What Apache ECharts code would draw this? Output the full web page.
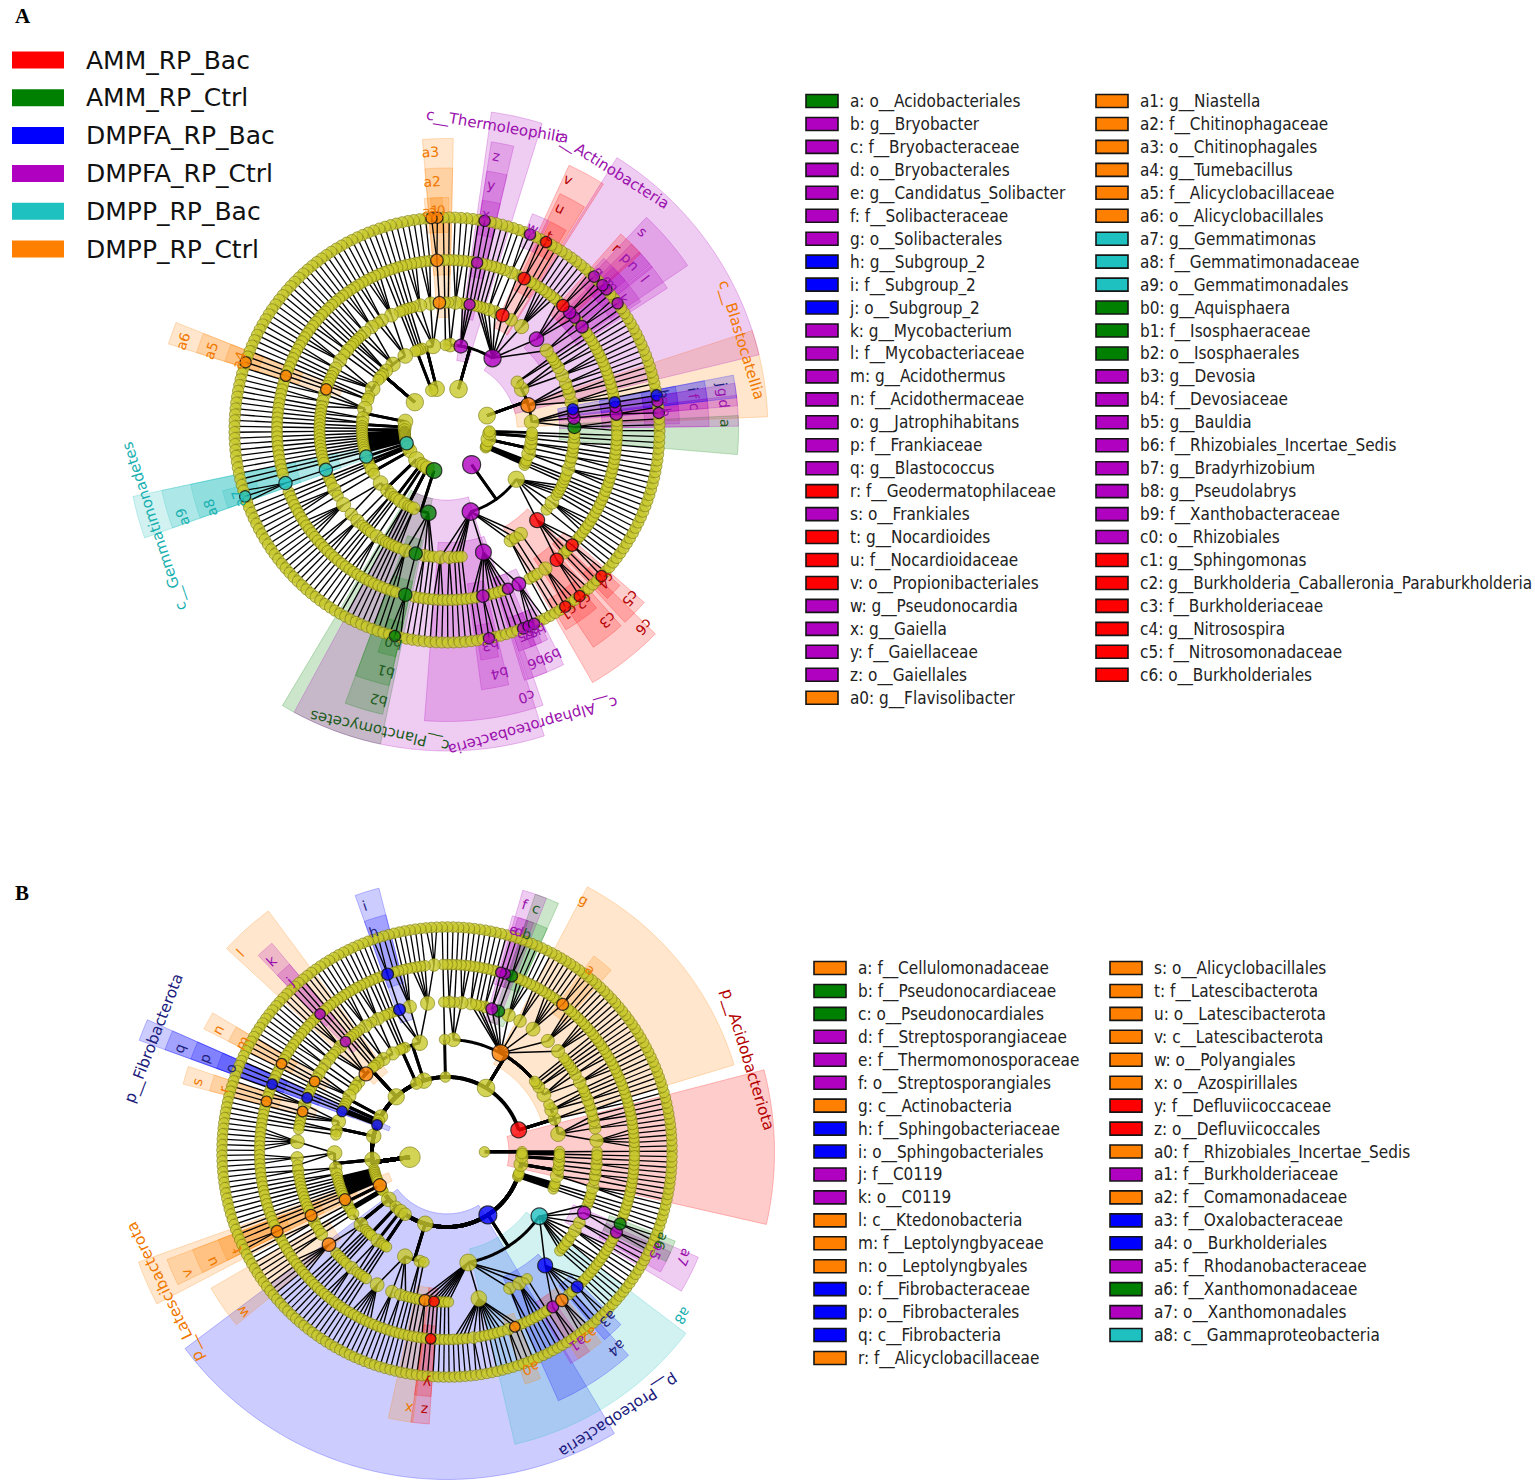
<!DOCTYPE html>
<html>
<head>
<meta charset="utf-8">
<script src="https://cdn.jsdelivr.net/npm/echarts@6/dist/echarts.min.js"></script>
<style>
html, body { margin: 0; padding: 0; background: #fff; }
#main { width: 1535px; height: 1482px; }
</style>
</head>
<body>
<div id="main"></div>
<script>
// groups of the LEfSe comparison
var groupNames = ['AMM_RP_Bac', 'AMM_RP_Ctrl', 'DMPFA_RP_Bac', 'DMPFA_RP_Ctrl', 'DMPP_RP_Bac', 'DMPP_RP_Ctrl'];
var groupColors = ['#ff0000', '#008000', '#0000ff', '#b000c0', '#1ec0c0', '#ff8000'];
var labelColors = ['#b40000', '#1d5c1d', '#20207c', '#9a10ad', '#18b0b0', '#f07800'];

// biomarkers: key, name, group.  key == name -> written on the ring, name '' -> node colour only
var markersA = [
  ['a', 'o__Acidobacteriales', 1], ['b', 'g__Bryobacter', 3], ['c', 'f__Bryobacteraceae', 3],
  ['d', 'o__Bryobacterales', 3], ['e', 'g__Candidatus_Solibacter', 3], ['f', 'f__Solibacteraceae', 3],
  ['g', 'o__Solibacterales', 3], ['h', 'g__Subgroup_2', 2], ['i', 'f__Subgroup_2', 2],
  ['j', 'o__Subgroup_2', 2], ['k', 'g__Mycobacterium', 3], ['l', 'f__Mycobacteriaceae', 3],
  ['m', 'g__Acidothermus', 3], ['n', 'f__Acidothermaceae', 3], ['o', 'g__Jatrophihabitans', 3],
  ['p', 'f__Frankiaceae', 3], ['q', 'g__Blastococcus', 3], ['r', 'f__Geodermatophilaceae', 0],
  ['s', 'o__Frankiales', 3], ['t', 'g__Nocardioides', 0], ['u', 'f__Nocardioidaceae', 0],
  ['v', 'o__Propionibacteriales', 0], ['w', 'g__Pseudonocardia', 3], ['x', 'g__Gaiella', 3],
  ['y', 'f__Gaiellaceae', 3], ['z', 'o__Gaiellales', 3], ['a0', 'g__Flavisolibacter', 5],
  ['a1', 'g__Niastella', 5], ['a2', 'f__Chitinophagaceae', 5], ['a3', 'o__Chitinophagales', 5],
  ['a4', 'g__Tumebacillus', 5], ['a5', 'f__Alicyclobacillaceae', 5], ['a6', 'o__Alicyclobacillales', 5],
  ['a7', 'g__Gemmatimonas', 4], ['a8', 'f__Gemmatimonadaceae', 4], ['a9', 'o__Gemmatimonadales', 4],
  ['b0', 'g__Aquisphaera', 1], ['b1', 'f__Isosphaeraceae', 1], ['b2', 'o__Isosphaerales', 1],
  ['b3', 'g__Devosia', 3], ['b4', 'f__Devosiaceae', 3], ['b5', 'g__Bauldia', 3],
  ['b6', 'f__Rhizobiales_Incertae_Sedis', 3], ['b7', 'g__Bradyrhizobium', 3], ['b8', 'g__Pseudolabrys', 3],
  ['b9', 'f__Xanthobacteraceae', 3], ['c0', 'o__Rhizobiales', 3], ['c1', 'g__Sphingomonas', 0],
  ['c2', 'g__Burkholderia_Caballeronia_Paraburkholderia', 0], ['c3', 'f__Burkholderiaceae', 0],
  ['c4', 'g__Nitrosospira', 0], ['c5', 'f__Nitrosomonadaceae', 0], ['c6', 'o__Burkholderiales', 0],
  ['c__Blastocatellia', 'c__Blastocatellia', 5], ['c__Actinobacteria', 'c__Actinobacteria', 3],
  ['c__Thermoleophilia', 'c__Thermoleophilia', 3], ['c__Gemmatimonadetes', 'c__Gemmatimonadetes', 4],
  ['c__Planctomycetes', 'c__Planctomycetes', 1], ['c__Alphaproteobacteria', 'c__Alphaproteobacteria', 3],
  ['#Gemmatimonadota', '', 4], ['#Planctomycetota', '', 1], ['#Proteobacteria', '', 3]
];

var markersB = [
  ['a', 'f__Cellulomonadaceae', 5], ['b', 'f__Pseudonocardiaceae', 1], ['c', 'o__Pseudonocardiales', 1],
  ['d', 'f__Streptosporangiaceae', 3], ['e', 'f__Thermomonosporaceae', 3], ['f', 'o__Streptosporangiales', 3],
  ['g', 'c__Actinobacteria', 5], ['h', 'f__Sphingobacteriaceae', 2], ['i', 'o__Sphingobacteriales', 2],
  ['j', 'f__C0119', 3], ['k', 'o__C0119', 3], ['l', 'c__Ktedonobacteria', 5],
  ['m', 'f__Leptolyngbyaceae', 5], ['n', 'o__Leptolyngbyales', 5], ['o', 'f__Fibrobacteraceae', 2],
  ['p', 'o__Fibrobacterales', 2], ['q', 'c__Fibrobacteria', 2], ['r', 'f__Alicyclobacillaceae', 5],
  ['s', 'o__Alicyclobacillales', 5], ['t', 'f__Latescibacterota', 5], ['u', 'o__Latescibacterota', 5],
  ['v', 'c__Latescibacterota', 5], ['w', 'o__Polyangiales', 5], ['x', 'o__Azospirillales', 5],
  ['y', 'f__Defluviicoccaceae', 0], ['z', 'o__Defluviicoccales', 0], ['a0', 'f__Rhizobiales_Incertae_Sedis', 5],
  ['a1', 'f__Burkholderiaceae', 3], ['a2', 'f__Comamonadaceae', 5], ['a3', 'f__Oxalobacteraceae', 2],
  ['a4', 'o__Burkholderiales', 2], ['a5', 'f__Rhodanobacteraceae', 3], ['a6', 'f__Xanthomonadaceae', 1],
  ['a7', 'o__Xanthomonadales', 3], ['a8', 'c__Gammaproteobacteria', 4],
  ['p__Acidobacteriota', 'p__Acidobacteriota', 0], ['p__Fibrobacterota', 'p__Fibrobacterota', 2],
  ['p__Latescibacterota', 'p__Latescibacterota', 5], ['p__Proteobacteria', 'p__Proteobacteria', 2]
];

// taxonomy, nested: phylum -> classes -> orders -> families -> genera.
// a number inside an order is a family with that many genera, inside a family it is a count of genera.
// {m: key, c: [...]} marks a biomarker clade.
var phylaA = [
  ['Acidobacteriota', [
    [{m: 'a', c: [1, 1, 1]}, {m: 'd', c: [{m: 'c', c: [{m: 'b'}, 1]}]}, {m: 'g', c: [{m: 'f', c: [{m: 'e'}]}]}, {m: 'j', c: [{m: 'i', c: [{m: 'h'}]}]}],
    {m: 'c__Blastocatellia', c: [[1, 1, 1], [1, 1], [1], [1, 1]]},
    [[1, 1, 1], [1, 1], [1]],
    [[1], [1]]
  ]],
  ['Actinobacteriota', [
    {m: 'c__Actinobacteria', c: [
      [{m: 'l', c: [{m: 'k'}, 1]}, 1],
      {m: 's', c: [{m: 'n', c: [{m: 'm'}]}, {m: 'p', c: [{m: 'o'}, 1]}, {m: 'r', c: [{m: 'q'}, 1]}, 1]},
      [1, 1, 1, 1, 1], [1, 1],
      {m: 'v', c: [{m: 'u', c: [{m: 't'}, 1]}, 1]},
      [[{m: 'w'}, 1]],
      [1, 1], [1], [1], [1]
    ]},
    {m: 'c__Thermoleophilia', c: [[1], {m: 'z', c: [{m: 'y', c: [{m: 'x'}]}]}, [1], [1]]},
    [[1, 1, 1], [1]],
    [[1]]
  ]],
  ['Bacteroidota', [
    [{m: 'a3', c: [{m: 'a2', c: [{m: 'a0'}, {m: 'a1'}]}]}, [1, 1, 1], [1, 1, 1], [1]],
    [[1]], [[1]]
  ]],
  ['Bdellovibrionota', [[[1]], [[1]]]],
  ['Chloroflexi', [
    [[1, 1, 1, 1], [1, 1], [1]], [[1, 1, 1], [1, 1], [1]], [[1], [1], [1]], [[1]], [[1, 1]], [[1]],
    [[1, 1, 1], [1, 1], [1], [1]], [[1]], [[1], [1]]
  ]],
  ['Firmicutes', [
    [{m: 'a6', c: [{m: 'a5', c: [{m: 'a4'}]}]}, [1, 1], [1, 1], [1]],
    [[1], [1]]
  ]],
  ['Cyanobacteria', [[[1], [1]], [[1]]]],
  ['Desulfobacterota', [[[1]], [[1]]]],
  ['Armatimonadota', [[[1]]]], ['Elusimicrobiota', [[[1]]]], ['Entotheonellaeota', [[[1]]]],
  ['FCPU426', [[[1]]]], ['Fibrobacterota', [[[1]]]], ['GAL15', [[[1]]]],
  ['Dependentiae', [[[1]]]], ['Hydrogenedentes', [[[1]]]], ['Abditibacteriota', [[[1]]]],
  ['Gemmatimonadota', {m: '#Gemmatimonadota', c: [
    {m: 'c__Gemmatimonadetes', c: [{m: 'a9', c: [{m: 'a8', c: [1, {m: 'a7'}, 1]}]}]}
  ]}],
  ['Latescibacterota', [[[1]]]],
  ['MBNT15', [[[1]], [[1]]]],
  ['Methylomirabilota', [[[1, 1, 1]], [[1]]]],
  ['Myxococcota', [[[1, 1, 1, 1, 1], [1, 1]], [[1, 1, 1]], [[1], [1]]]],
  ['NB1-j', [[[1]], [[1]]]],
  ['Nitrospirota', [[[1, 1, 1]]]],
  ['Patescibacteria', [[[1], [1]], [[1]], [[1]]]],
  ['Planctomycetota', {m: '#Planctomycetota', c: [
    [[1], [1]],
    {m: 'c__Planctomycetes', c: [[1, 1, 1], {m: 'b2', c: [{m: 'b1', c: [1, {m: 'b0'}, 1]}]}, [1, 1], [1], [1]]}
  ]}],
  ['Proteobacteria', {m: '#Proteobacteria', c: [
    {m: 'c__Alphaproteobacteria', c: [
      [1, 1, 1], [1, 1], [1], [1], [1],
      {m: 'c0', c: [1, 1, {m: 'b4', c: [{m: 'b3'}, 1]}, 1, 1, 1, 1, {m: 'b6', c: [{m: 'b5'}]}, {m: 'b9', c: [{m: 'b7'}, {m: 'b8'}, 1, 1]}]},
      [1, 1], [1],
      [[{m: 'c1'}, 1, 1]]
    ]},
    [
      {m: 'c6', c: [{m: 'c3', c: [{m: 'c2'}, 1, 1]}, 1, 1, {m: 'c5', c: [{m: 'c4'}, 1]}, 1]},
      [1], [1, 1, 1, 1], [1], [1], [1], [1]
    ]
  ]}],
  ['RCP2-54', [[[1]]]], ['SAR324', [[[1]]]], ['Sumerlaeota', [[[1]]]],
  ['Verrucomicrobiota', [[[1, 1, 1], [1]], [[1, 1]], [[1], [1]]]],
  ['WPS-2', [[[1, 1]], [[1]]]],
  ['Zixibacteria', [[[1]]]]
];

// kingdom, phylum, classes
var phylaB = [
  ['Archaea', 'Crenarchaeota', [[[1]]]],
  ['Bacteria', 'Acidobacteriota', {m: 'p__Acidobacteriota', c: [
    [[1, 1, 1, 1, 1], [1, 1], [1, 1], [1]], [[1, 1], [1]], [[1, 1], [1], [1]], [[1]]
  ]}],
  ['Bacteria', 'Actinobacteriota', [
    [[1, 1, 1], [1, 1], [1]], [[1], [1]], [[1]], [[1]],
    {m: 'g', c: [
      [1, 1, 1, 1], [1, 1, 1, 1],
      [{m: 'a', c: [2]}, 1, 1, 1, 1],
      [1, 1, 1], [1, 1, 1, 1],
      {m: 'c', c: [{m: 'b', c: [2]}]},
      {m: 'f', c: [{m: 'd', c: [1]}, {m: 'e', c: [1]}]},
      [1, 1], [1], [1], [1, 1]
    ]},
    [[1, 1, 1], [1], [1, 1]]
  ]],
  ['Bacteria', 'Armatimonadota', [[[1]]]],
  ['Bacteria', 'Bacteroidota', [
    [[3, 1, 1, 1, 1], [1, 1, 1, 1], {m: 'i', c: [{m: 'h', c: [2]}]}, [1]],
    [[1]]
  ]],
  ['Bacteria', 'Bdellovibrionota', [[[1]], [[1]]]],
  ['Bacteria', 'Chloroflexi', [
    [[1, 1, 1], [1]], [[1, 1, 1], [1]], [[1], [1]], [[1]], [[1]],
    {m: 'l', c: [{m: 'k', c: [{m: 'j', c: [1]}]}, [1, 1, 1], [1], [1]]},
    [[1, 1]], [[1, 1]], [[1]]
  ]],
  ['Bacteria', 'Cyanobacteria', [
    [[1, 1], [1], {m: 'n', c: [{m: 'm', c: [1]}]}],
    [[1]]
  ]],
  ['Bacteria', 'Desulfobacterota', [[[1]], [[1]]]],
  ['Bacteria', 'Elusimicrobiota', [[[1]]]],
  ['Bacteria', 'Fibrobacterota', {m: 'p__Fibrobacterota', c: [{m: 'q', c: [{m: 'p', c: [{m: 'o', c: [1]}]}]}]}],
  ['Bacteria', 'Firmicutes', [
    [[1, 1, 1], {m: 's', c: [{m: 'r', c: [1]}]}, [1], [1]],
    [[1], [1]], [[1]]
  ]],
  ['Bacteria', 'Gemmatimonadota', [[[1, 1, 1, 1, 1, 1], [1, 1, 1], [1]], [[1, 1], [1]], [[1], [1]]]],
  ['Bacteria', 'Hydrogenedentes', [[[1]]]], ['Bacteria', 'Entotheonellaeota', [[[1]]]],
  ['Bacteria', 'FCPU426', [[[1]]]], ['Bacteria', 'GAL15', [[[1]]]],
  ['Bacteria', 'Dependentiae', [[[1]]]], ['Bacteria', 'Abditibacteriota', [[[1]]]],
  ['Bacteria', 'Deinococcota', [[[1]]]], ['Bacteria', 'Nitrospinota', [[[1]]]],
  ['Bacteria', 'Latescibacterota', {m: 'p__Latescibacterota', c: [
    {m: 'v', c: [{m: 'u', c: [{m: 't', c: [2]}]}]}, [[1, 1]]
  ]}],
  ['Bacteria', 'MBNT15', [[[1]]]],
  ['Bacteria', 'Methylomirabilota', [[[1]]]],
  ['Bacteria', 'Myxococcota', [[[1, 1]], [{m: 'w', c: [1, 1, 1, 1, 1]}, [1]], [[1]], [[1]]]],
  ['Bacteria', 'NB1-j', [[[1]], [[1]]]],
  ['Bacteria', 'Nitrospirota', [[[1, 1, 1], [1]]]],
  ['Bacteria', 'Patescibacteria', [[[1]], [[1]], [[1]]]],
  ['Bacteria', 'Planctomycetota', [[[1, 1, 1, 1, 1, 1], [1, 1, 1], [1, 1], [1]], [[1], [1]], [[1]]]],
  ['Bacteria', 'Proteobacteria', {m: 'p__Proteobacteria', c: [
    [
      [1], {m: 'x', c: [1, 1]}, [1], {m: 'z', c: [{m: 'y', c: [1]}]}, [1], [1], [1], [1],
      [1, 1, 1, 1, 2, 1, 1, 1, 1, 1, 1, 2, {m: 'a0', c: [1]}, 1],
      [1, 1], [1, 1, 1, 1], [1]
    ],
    {m: 'a8', c: [
      {m: 'a4', c: [{m: 'a1', c: [2]}, {m: 'a2', c: [3]}, 1, 1, {m: 'a3', c: [2]}, 1, 1]},
      [1], [1], [1], [1, 1], [1], [1, 1, 1], [1, 1],
      {m: 'a7', c: [{m: 'a5', c: [2]}, {m: 'a6', c: [2]}]},
      [1]
    ]}
  ]}],
  ['Bacteria', 'RCP2-54', [[[1]]]], ['Bacteria', 'SAR324', [[[1]]]], ['Bacteria', 'Sumerlaeota', [[[1]]]],
  ['Bacteria', 'Verrucomicrobiota', [[[1, 1, 1], [1]], [[1, 1]], [[1]]]],
  ['Bacteria', 'WPS-2', [[[1, 1]], [[1]]]],
  ['Bacteria', 'Zixibacteria', [[[1]]]]
];

var layoutA = {polar: 0, kingdoms: false, depth: 5, ring: 42.5, start: 91, lmax: 5, labelStep: 29.5,
  arcDepth: 1, widths: [0, 2.8, 1.5, 1.4, 1.3], base: 5.6, k: 0.9, letterSize: 14, nameSize: 15};
var layoutB = {polar: 1, kingdoms: true, depth: 6, ring: 37.5, start: 90.5, lmax: 5, labelStep: 27.5,
  arcDepth: 2, widths: [0, 3.8, 3.0, 1.5, 1.4, 1.3], base: 5.3, k: 0.9, letterSize: 14, nameSize: 15.5};

function rgba(hex, a) {
  var n = parseInt(hex.slice(1), 16);
  return 'rgba(' + (n >> 16 & 255) + ',' + (n >> 8 & 255) + ',' + (n & 255) + ',' + a + ')';
}

function grow(spec, depth, maxDepth) {
  var node = {depth: depth, kids: [], mark: null};
  if (spec && !Array.isArray(spec) && typeof spec === 'object') { node.mark = spec.m; spec = spec.c; }
  if (depth === maxDepth) return node;
  if (typeof spec === 'number') spec = [spec];
  (spec || [1]).forEach(function (s) {
    if (typeof s === 'number' && depth + 1 === maxDepth) {
      for (var i = 0; i < s; i++) node.kids.push(grow(null, depth + 1, maxDepth));
    } else {
      node.kids.push(grow(s, depth + 1, maxDepth));
    }
  });
  return node;
}

function buildTree(phyla, cfg) {
  var root = {depth: 0, kids: [], mark: null};
  if (cfg.kingdoms) {
    var km = {};
    phyla.forEach(function (p) {
      if (!km[p[0]]) { km[p[0]] = {depth: 1, kids: [], mark: null}; root.kids.push(km[p[0]]); }
      km[p[0]].kids.push(grow(p[2], 2, cfg.depth));
    });
  } else {
    phyla.forEach(function (p) { root.kids.push(grow(p[1], 1, cfg.depth)); });
  }
  var leaf = 0;
  (function place(n) {
    if (!n.kids.length) { n.s = leaf; n.e = leaf + 1; n.v = leaf + 0.5; leaf++; return; }
    n.kids.forEach(place);
    var f = n.kids[0], l = n.kids[n.kids.length - 1];
    n.s = f.s; n.e = l.e; n.v = (f.v + l.v) / 2;
  })(root);
  return {root: root, n: leaf};
}

function cladogram(phyla, markers, cfg) {
  var mk = {};
  markers.forEach(function (m) { mk[m[0]] = {name: m[1], g: m[2]}; });
  var t = buildTree(phyla, cfg);
  var outer = cfg.ring * cfg.depth;
  var nodes = [], edges = [], sectors = [], labels = [];
  (function walk(n, parent) {
    if (parent) nodes.push(n);
    if (parent && parent.depth >= 1) {
      edges.push([parent.depth, parent.v, n.depth, n.v, parent.depth <= cfg.arcDepth ? 1 : 0, cfg.widths[parent.depth]]);
    }
    if (n.mark && mk[n.mark]) {
      var m = mk[n.mark];
      n.g = m.g;
      if (m.name) {
        var lr = outer + 7 + (cfg.lmax - n.depth) * cfg.labelStep;
        var w = n.e - n.s + 1.8;
        // shading is centred on the clade's first edge, as in the original figure
        sectors.push([n.depth - 0.35, (lr + 13) / cfg.ring, n.s - w / 2, n.s + w / 2, m.g]);
        labels.push({r: lr / cfg.ring, v: n.v, text: n.mark === m.name ? m.name : n.mark, g: m.g, big: n.mark === m.name});
      }
    }
    n.kids.forEach(function (k) { walk(k, n); });
  })(t.root, null);
  sectors.sort(function (a, b) { return a[0] - b[0]; });

  var plain = [], marked = [];
  nodes.forEach(function (n) {
    var r = cfg.base + cfg.k * Math.log(n.e - n.s);
    var item = {value: [n.depth, n.v], symbolSize: 2 * r};
    if (n.g !== undefined) {
      item.itemStyle = {color: groupColors[n.g], borderColor: '#111', borderWidth: 1.2};
      marked.push(item);
    } else {
      item.itemStyle = {color: '#c8c82a', borderColor: '#7a7a12', borderWidth: 0.8};
      plain.push(item);
    }
  });

  var pi = cfg.polar;
  var series = [
    {type: 'custom', coordinateSystem: 'polar', polarIndex: pi, silent: true, z: 1, data: sectors,
      renderItem: function (params, api) {
        var r0 = api.value(0), r1 = api.value(1), a0 = api.value(2), a1 = api.value(3), g = api.value(4);
        var steps = Math.max(2, Math.ceil((a1 - a0) / 0.5)), pts = [], i;
        for (i = 0; i <= steps; i++) pts.push(api.coord([r1, a0 + (a1 - a0) * i / steps]));
        for (i = steps; i >= 0; i--) pts.push(api.coord([r0, a0 + (a1 - a0) * i / steps]));
        return {type: 'polygon', shape: {points: pts},
          style: {fill: rgba(groupColors[g], 0.2), stroke: rgba(groupColors[g], 0.3), lineWidth: 0.8}};
      }},
    {type: 'custom', coordinateSystem: 'polar', polarIndex: pi, silent: true, z: 2, data: edges,
      renderItem: function (params, api) {
        var pl = api.value(0), pv = api.value(1), cl = api.value(2), cv = api.value(3);
        var pts = [api.coord([pl, pv])];
        if (api.value(4)) {
          pts.push(api.coord([cl, pv]));
          var steps = Math.max(1, Math.ceil(Math.abs(cv - pv) / 0.5));
          for (var i = 1; i <= steps; i++) pts.push(api.coord([cl, pv + (cv - pv) * i / steps]));
        } else {
          pts.push(api.coord([cl, cv]));
        }
        return {type: 'polyline', shape: {points: pts}, style: {stroke: '#000', lineWidth: api.value(5), fill: null}};
      }},
    {type: 'scatter', coordinateSystem: 'polar', polarIndex: pi, silent: true, z: 3,
      symbol: 'circle', data: plain.concat(marked)},
    {type: 'custom', coordinateSystem: 'polar', polarIndex: pi, silent: true, z: 4,
      data: labels.map(function (l, i) { return [l.r, l.v, i]; }),
      renderItem: function (params, api) {
        var l = labels[api.value(2)];
        var p = api.coord([api.value(0), api.value(1)]);
        var cs = params.coordSys;
        var phi = Math.atan2(cs.cy - p[1], p[0] - cs.cx);
        return {type: 'text', x: p[0], y: p[1], rotation: phi - Math.PI / 2,
          style: {text: l.text, fill: labelColors[l.g], fontSize: l.big ? cfg.nameSize : cfg.letterSize,
            fontFamily: 'DejaVu Sans', align: 'center', verticalAlign: 'middle'}};
      }}
  ];
  return {series: series, n: t.n};
}

function legendList(markers) {
  return markers.filter(function (m) { return m[1] && m[0] !== m[1]; });
}

function legendGraphics(list, xs, y0, dy, perCol) {
  var out = [];
  list.forEach(function (m, i) {
    var col = i < perCol ? 0 : 1, row = col ? i - perCol : i;
    var x = xs[col], y = y0 + row * dy;
    out.push({type: 'rect', silent: true, shape: {x: x, y: y - 6.5, width: 32, height: 13},
      style: {fill: groupColors[m[2]], stroke: '#151515', lineWidth: 1.6}});
    out.push({type: 'text', silent: true, x: x + 44, y: y,
      style: {text: m[0] + ': ' + m[1], fill: '#222', fontSize: 17, fontFamily: 'DejaVu Sans Condensed',
        align: 'left', verticalAlign: 'middle'}});
  });
  return out;
}

var A = cladogram(phylaA, markersA, layoutA);
var B = cladogram(phylaB, markersB, layoutB);

var graphics = [
  {type: 'text', x: 15, y: 16, silent: true, style: {text: 'A', fontSize: 21, fontWeight: 'bold', fontFamily: 'Liberation Serif', fill: '#000', verticalAlign: 'middle'}},
  {type: 'text', x: 15, y: 893, silent: true, style: {text: 'B', fontSize: 21, fontWeight: 'bold', fontFamily: 'Liberation Serif', fill: '#000', verticalAlign: 'middle'}}
];
groupNames.forEach(function (g, i) {
  var y = 60 + i * 37.8;
  graphics.push({type: 'rect', silent: true, shape: {x: 12, y: y - 8.5, width: 52, height: 17}, style: {fill: groupColors[i]}});
  graphics.push({type: 'text', silent: true, x: 86, y: y, style: {text: g, fill: '#111', fontSize: 25, fontFamily: 'DejaVu Sans', verticalAlign: 'middle'}});
});
graphics = graphics.concat(legendGraphics(legendList(markersA), [806, 1096], 101, 22.95, 27));
graphics = graphics.concat(legendGraphics(legendList(markersB), [814, 1110], 968, 22.94, 18));

var chart = echarts.init(document.getElementById('main'), null, {renderer: 'svg'});
chart.setOption({
  animation: false,
  backgroundColor: '#fff',
  polar: [
    {center: [447, 430], radius: layoutA.ring * 8},
    {center: [447, 1152], radius: layoutB.ring * 9}
  ],
  angleAxis: [
    {polarIndex: 0, type: 'value', min: 0, max: A.n, startAngle: 90 - layoutA.start + 360, clockwise: false, show: false},
    {polarIndex: 1, type: 'value', min: 0, max: B.n, startAngle: 90 - layoutB.start + 360, clockwise: false, show: false}
  ],
  radiusAxis: [
    {polarIndex: 0, type: 'value', min: 0, max: 8, show: false},
    {polarIndex: 1, type: 'value', min: 0, max: 9, show: false}
  ],
  graphic: graphics,
  series: A.series.concat(B.series)
});
</script>
</body>
</html>
